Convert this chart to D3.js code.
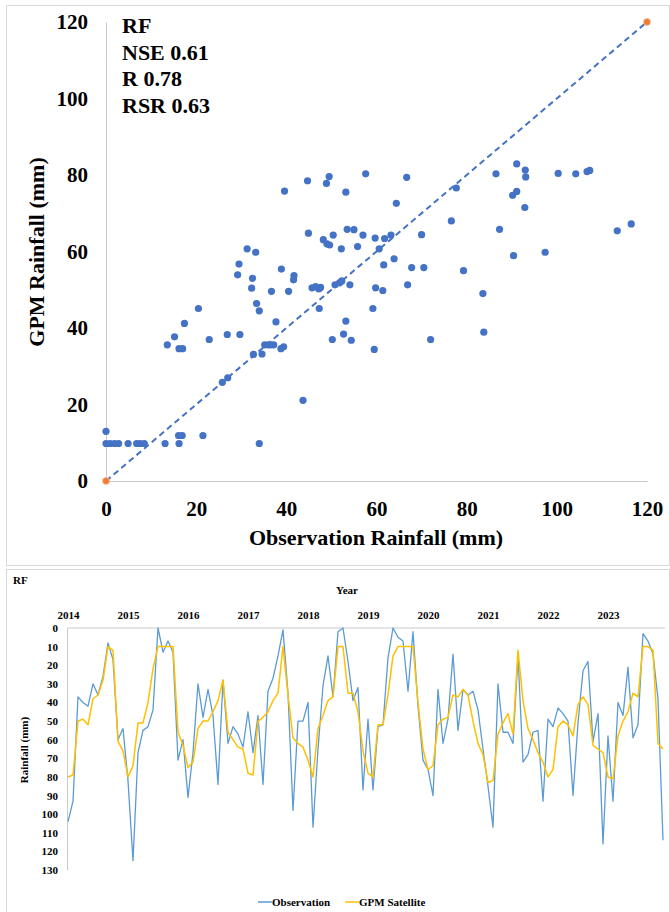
<!DOCTYPE html>
<html>
<head>
<meta charset="utf-8">
<script src="https://cdn.jsdelivr.net/npm/d3@7"></script>
<style>
  html, body { margin: 0; padding: 0; background: #ffffff; }
  svg { display: block; }
  text { font-family: "Liberation Serif", "Times New Roman", serif; font-weight: bold; fill: #000; }
</style>
</head>
<body>
<svg id="chart" width="670" height="912"></svg>
<script>
// ---------- Scatter data (Observation vs GPM, mm) ----------
const scatterObs = [39.6, 44.7, 48.9, 49.5, 53.2, 57.6, 66.7, 64.4, 77.7, 86.5, 91.1, 93.0, 93.1, 100.3, 104.2, 106.7, 107.3, 91.1, 90.2, 92.9,
  76.6, 87.3, 113.4, 116.5, 44.9, 48.2, 49.0, 49.6, 50.4, 53.5, 55.0, 57.0, 52.2, 55.8, 59.7, 61.8, 63.2, 60.6, 70.0, 63.9,
  61.6, 67.8, 70.5, 79.3, 90.4, 97.4, 31.3, 33.2, 29.5, 29.2, 32.5, 38.9, 41.7, 41.6, 32.3, 36.7, 40.5, 45.7, 46.5, 47.2,
  47.6, 50.8, 51.8, 52.3, 54.1, 59.8, 61.4, 66.9, 83.6, 33.4, 34.0, 20.5, 17.4, 37.7, 47.3, 59.2, 53.2, 52.7, 83.8, 50.2,
  54.4, 72.0, 13.6, 15.2, 16.2, 17.0, 22.9, 26.9, 29.7, 35.2, 36.0, 36.6, 37.2, 38.8, 39.4, 59.5, 32.7, 34.6, 25.8, 27.0,
  43.7, 21.5, 16.1, 16.9, 0, 0, 0.9, 1.9, 2.8, 4.9, 6.8, 7.6, 8.5, 13.1, 16.2, 34.0];
const scatterGpm = [75.8, 78.5, 77.8, 79.6, 75.5, 80.3, 79.4, 72.6, 76.6, 80.3, 82.9, 81.3, 79.5, 80.4, 80.3, 80.9, 81.2, 75.7, 74.7, 71.5,
  68.0, 65.8, 65.4, 67.2, 64.8, 63.1, 62.0, 61.7, 64.3, 65.8, 65.7, 64.3, 60.7, 61.3, 63.5, 63.4, 64.3, 60.7, 64.4, 58.1,
  56.5, 55.8, 55.8, 55.0, 58.9, 59.8, 60.7, 59.8, 56.7, 53.9, 53.0, 55.4, 53.7, 52.6, 50.4, 49.6, 49.6, 50.5, 50.8, 50.2,
  50.6, 51.3, 51.8, 52.3, 51.3, 50.5, 49.8, 51.3, 49.0, 46.4, 44.5, 45.1, 41.2, 41.6, 45.1, 45.1, 41.8, 38.4, 38.9, 37.0,
  36.8, 37.0, 35.6, 37.7, 34.6, 34.6, 37.0, 38.3, 38.3, 35.6, 35.6, 35.6, 35.6, 34.6, 35.1, 34.4, 33.1, 33.2, 25.8, 27.0,
  21.1, 11.9, 11.9, 11.9, 13.0, 9.8, 9.8, 9.8, 9.8, 9.8, 9.8, 9.8, 9.8, 9.8, 9.8, 9.8];
const lineEnds = [0, 120];            // 1:1 line end points
const scatterTicks = [0, 20, 40, 60, 80, 100, 120];
const statsLines = ["RF", "NSE 0.61", "R 0.78", "RSR 0.63"];

// ---------- Time series data (monthly, Jan 2014 – Dec 2023, mm) ----------
const years = ["2014", "2015", "2016", "2017", "2018", "2019", "2020", "2021", "2022", "2023"];
const observation = [
  104, 93, 37, 40, 42, 30, 36, 26, 8, 17, 60, 54,
  82, 125, 67, 55, 53, 44, 0, 13, 7, 13, 71, 60,
  91, 67, 30, 48, 33, 47, 84, 28, 62, 53, 57, 64,
  45, 67, 47, 84, 34, 27, 15, 1, 35, 98, 50, 50,
  40, 107, 65, 31, 15, 37, 2, 0, 18, 39, 32, 87,
  49, 87, 53, 52, 16, 0, 5, 7, 34, 2, 42, 71,
  76, 90, 33, 62, 49, 14, 55, 33, 36, 34, 44, 65,
  85, 107, 30, 56, 56, 62, 15, 72, 68, 56, 55, 93,
  49, 53, 43, 46, 50, 90, 51, 23, 18, 61, 46, 116,
  58, 93, 40, 47, 21, 59, 52, 3, 7, 14, 38, 114];
const gpm = [
  80, 79, 50, 49, 52, 38, 36, 28, 10, 12, 61, 66,
  80, 74, 51, 51, 40, 22, 10, 10, 10, 10, 56, 63,
  75, 72, 54, 50, 50, 45, 39, 28, 56, 60, 64, 65,
  78, 79, 50, 48, 45, 39, 35, 10, 36, 59, 62, 64,
  71, 80, 54, 47, 39, 37, 10, 10, 35, 35, 45, 66,
  78, 80, 52, 52, 36, 15, 10, 10, 10, 10, 40, 65,
  76, 74, 52, 49, 48, 36, 37, 33, 36, 50, 62, 68,
  83, 82, 57, 51, 46, 57, 12, 39, 54, 60, 67, 72,
  80, 76, 53, 50, 52, 58, 41, 37, 41, 63, 65, 67,
  80, 81, 58, 50, 45, 35, 37, 10, 10, 12, 62, 65];
const tsTicks = d3.range(0, 131, 10);
const seriesNames = ["Observation", "GPM Satellite"];
const seriesColors = ["#5B9BD5", "#FFC000"];

const svg = d3.select("#chart");

// Panel frames
svg.append("rect").attr("x", 6.5).attr("y", 5.5).attr("width", 663).attr("height", 560)
  .attr("fill", "none").attr("stroke", "#d9d9d9");
svg.append("rect").attr("x", 6.5).attr("y", 569.5).attr("width", 663).attr("height", 350)
  .attr("fill", "none").attr("stroke", "#d9d9d9");

// ================= Scatter =================
const xS = d3.scaleLinear().domain([0, 120]).range([106, 647]);
const yS = d3.scaleLinear().domain([0, 120]).range([481, 22]);

const gx = svg.append("g").attr("transform", `translate(0,${yS(0)})`)
  .call(d3.axisBottom(xS).tickValues(scatterTicks).tickSize(0).tickPadding(20).tickFormat(d3.format("d")));
const gy = svg.append("g").attr("transform", `translate(${xS(0)},0)`)
  .call(d3.axisLeft(yS).tickValues(scatterTicks).tickSize(0).tickPadding(18).tickFormat(d3.format("d")));
[gx, gy].forEach(g => {
  g.select(".domain").attr("stroke", "#c9c9c9").attr("stroke-width", 1);
  g.selectAll("text").attr("font-size", 21).attr("font-family", "Liberation Serif, Times New Roman, serif")
    .attr("font-weight", "bold").attr("fill", "#000");
});

// 1:1 dashed line
svg.append("line")
  .attr("x1", xS(lineEnds[0])).attr("y1", yS(lineEnds[0]))
  .attr("x2", xS(lineEnds[1])).attr("y2", yS(lineEnds[1]))
  .attr("stroke", "#4472C4").attr("stroke-width", 2).attr("stroke-dasharray", "6,4");

// points
svg.append("g").selectAll("circle").data(scatterObs.map((o, i) => [o, scatterGpm[i]]))
  .join("circle")
  .attr("cx", d => xS(d[0])).attr("cy", d => yS(d[1])).attr("r", 3.6)
  .attr("fill", "#4472C4");

svg.append("g").selectAll("circle").data(lineEnds).join("circle")
  .attr("cx", d => xS(d)).attr("cy", d => yS(d)).attr("r", 3.4)
  .attr("fill", "#ED7D31").attr("stroke", "#F4B183").attr("stroke-width", 0.8);

// stats text
svg.append("g").selectAll("text").data(statsLines).join("text")
  .attr("x", 122).attr("y", (d, i) => 33 + i * 26.7)
  .attr("font-size", 22).text(d => d);

// axis titles
svg.append("text").attr("x", 376).attr("y", 545).attr("text-anchor", "middle")
  .attr("font-size", 22).text("Observation Rainfall (mm)");
svg.append("text").attr("transform", "translate(44,252) rotate(-90)").attr("text-anchor", "middle")
  .attr("font-size", 22).text("GPM Rainfall (mm)");

// ================= Time series =================
const xT = d3.scaleLinear().domain([0, observation.length - 1]).range([68, 663]);
const yT = d3.scaleLinear().domain([0, 130]).range([628, 870]);

const gTop = svg.append("g").attr("transform", `translate(0,${yT(0)})`)
  .call(d3.axisTop(xT).tickValues(years.map((y, i) => i * 12)).tickSize(0).tickPadding(9)
    .tickFormat((d, i) => years[i]));
gTop.select(".domain").attr("d", `M${xT.range()[0] - 1},0H665`);
const gLeft = svg.append("g").attr("transform", `translate(${xT.range()[0] - 1},0)`)
  .call(d3.axisLeft(yT).tickValues(tsTicks).tickSize(0).tickPadding(9));
[gTop, gLeft].forEach(g => {
  g.select(".domain").attr("stroke", "#c9c9c9").attr("stroke-width", 1);
  g.selectAll("text").attr("font-size", 11).attr("font-family", "Liberation Serif, Times New Roman, serif")
    .attr("font-weight", "bold").attr("fill", "#000");
});

const line = d3.line().x((d, i) => xT(i)).y(d => yT(d));
svg.append("path").datum(observation).attr("d", line)
  .attr("fill", "none").attr("stroke", seriesColors[0]).attr("stroke-width", 1.3).attr("stroke-linejoin", "round");
svg.append("path").datum(gpm).attr("d", line)
  .attr("fill", "none").attr("stroke", seriesColors[1]).attr("stroke-width", 1.5).attr("stroke-linejoin", "round");

svg.append("text").attr("x", 13).attr("y", 584).attr("font-size", 11).text("RF");
svg.append("text").attr("x", 347).attr("y", 594).attr("text-anchor", "middle").attr("font-size", 11).text("Year");
svg.append("text").attr("transform", "translate(28,750) rotate(-90)").attr("text-anchor", "middle")
  .attr("font-size", 11).text("Rainfall (mm)");

// legend
const legX = [258, 345];
const leg = svg.append("g").selectAll("g").data(seriesNames).join("g")
  .attr("transform", (d, i) => `translate(${legX[i]},902)`);
leg.append("line").attr("x1", 0).attr("x2", 14).attr("y1", 0).attr("y2", 0)
  .attr("stroke", (d, i) => seriesColors[i]).attr("stroke-width", 1.5);
leg.append("text").attr("x", 14).attr("y", 4).attr("font-size", 11).text(d => d);
</script>
</body>
</html>
